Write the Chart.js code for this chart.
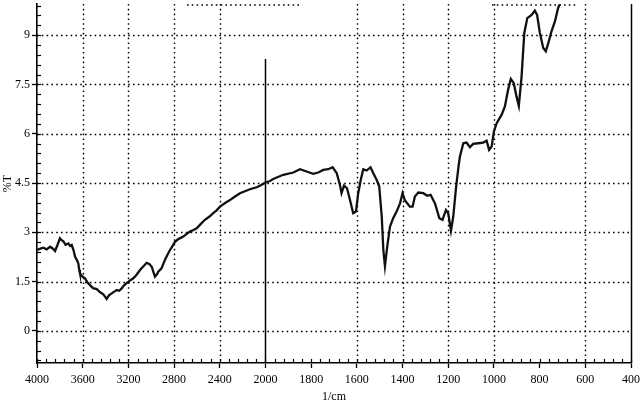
<!DOCTYPE html>
<html>
<head>
<meta charset="utf-8">
<script src="https://cdn.jsdelivr.net/npm/chart.js@4/dist/chart.umd.min.js"></script>
<style>
  html, body { margin: 0; padding: 0; background: #fff; }
  #wrap { width: 640px; height: 404px; position: relative; }
</style>
</head>
<body>
<div id="wrap"><canvas id="ir"></canvas></div>
<script>
// ── Spectrum data (wavenumber, %T) ──────────────────────────
const wavenumbers = [
  4000, 3970, 3945, 3915, 3886, 3860, 3842, 3820, 3799, 3785, 3770, 3750, 3726, 3710, 3696, 3680,
  3667, 3650, 3638, 3630, 3624, 3600, 3580, 3560, 3536, 3510, 3477, 3450, 3420, 3400, 3390, 3370,
  3346, 3320, 3302, 3280, 3259, 3240, 3215, 3190, 3157, 3130, 3098, 3070, 3040, 3015, 2996, 2980,
  2967, 2950, 2938, 2910, 2880, 2860, 2836, 2810, 2792, 2760, 2719, 2690, 2661, 2630, 2602, 2570,
  2530, 2490, 2457, 2430, 2398, 2350, 2311, 2270, 2223, 2180, 2136, 2077, 2040, 2004, 1980, 1966,
  1922, 1878, 1849, 1820, 1791, 1769, 1747, 1725, 1706, 1688, 1674, 1667, 1656, 1643, 1630, 1616,
  1604, 1594, 1583, 1572, 1557, 1540, 1528, 1513, 1502, 1491, 1484, 1477, 1467, 1455, 1441, 1426,
  1411, 1400, 1390, 1368, 1356, 1346, 1331, 1309, 1292, 1277, 1258, 1239, 1225, 1210, 1200, 1188,
  1178, 1166, 1155, 1149, 1134, 1120, 1105, 1091, 1069, 1047, 1032, 1021, 1010, 1000, 988, 966,
  952, 938, 926, 913, 901, 891, 879, 867, 854, 835, 821, 811, 799, 784, 773, 762,
  748, 733, 719, 711
];
const transmittance = [
  2.46, 2.50, 2.53, 2.48, 2.56, 2.50, 2.43, 2.62, 2.82, 2.76, 2.73, 2.62, 2.66, 2.58, 2.61, 2.45,
  2.26, 2.15, 2.05, 1.85, 1.75, 1.65, 1.60, 1.48, 1.39, 1.30, 1.27, 1.18, 1.11, 1.02, 0.97, 1.08,
  1.14, 1.20, 1.24, 1.22, 1.29, 1.38, 1.45, 1.52, 1.60, 1.70, 1.85, 1.96, 2.07, 2.03, 1.95, 1.78,
  1.65, 1.72, 1.80, 1.90, 2.16, 2.30, 2.46, 2.60, 2.71, 2.80, 2.87, 2.95, 3.02, 3.07, 3.12, 3.24,
  3.38, 3.48, 3.58, 3.66, 3.78, 3.90, 3.98, 4.08, 4.19, 4.25, 4.31, 4.37, 4.43, 4.51, 4.56, 4.62,
  4.75, 4.82, 4.92, 4.85, 4.78, 4.82, 4.90, 4.92, 4.98, 4.80, 4.44, 4.19, 4.42, 4.34, 3.98, 3.58,
  3.63, 4.19, 4.59, 4.92, 4.88, 4.98, 4.80, 4.59, 4.39, 3.48, 2.46, 1.97, 2.56, 3.17, 3.43, 3.63,
  3.88, 4.19, 3.98, 3.78, 3.78, 4.09, 4.21, 4.19, 4.11, 4.14, 3.88, 3.43, 3.38, 3.68, 3.58, 3.05,
  3.48, 4.35, 5.00, 5.30, 5.71, 5.73, 5.59, 5.69, 5.71, 5.73, 5.79, 5.51, 5.61, 6.07, 6.32, 6.58,
  6.83, 7.34, 7.67, 7.54, 7.13, 6.85, 7.74, 9.07, 9.52, 9.62, 9.75, 9.62, 9.07, 8.61, 8.51, 8.76,
  9.12, 9.42, 9.83, 9.95
];

// ── Axis ticks ─────────────────────────────────────────────
const xTickLabels = [4000, 3600, 3200, 2800, 2400, 2000, 1800, 1600, 1400, 1200, 1000, 800, 600, 400];
const yTickValues = [0, 1.5, 3, 4.5, 6, 7.5, 9];
const xGridDotted = [3600, 3200, 2800, 2400, 1600, 1400, 1200, 1000, 600];
const xGridSolid  = [2000, 400];

// The scan's x axis halves its scale below 2000 1/cm:
// 4000→2000 maps to 0→1000, 2000→400 maps to 1000→2600.
function toU(wn)  { return wn >= 2000 ? (4000 - wn) / 2 : 1000 + (2000 - wn); }
function fromU(u) { return u <= 1000 ? 4000 - 2 * u : 2000 - (u - 1000); }

const points = wavenumbers.map((wn, i) => ({ x: toU(wn), y: transmittance[i] }));

const FONT = { family: "'Liberation Serif', 'DejaVu Serif', serif", size: 12 };

// ── Grid lines + inside minor ticks ────────────────────────
const framePlugin = {
  id: "frame",
  beforeDatasetsDraw(chart) {
    const { ctx, chartArea: a, scales: { x, y } } = chart;
    const seg = (x1, y1, x2, y2) => { ctx.beginPath(); ctx.moveTo(x1, y1); ctx.lineTo(x2, y2); ctx.stroke(); };
    ctx.save();
    ctx.strokeStyle = "#000";

    // dotted grid
    ctx.lineWidth = 1.4;
    ctx.setLineDash([1.6, 3.2]);
    xGridDotted.forEach(wn => {
      const px = Math.round(x.getPixelForValue(toU(wn))) + 0.5;
      seg(px, a.top, px, a.bottom);
    });
    yTickValues.forEach(v => {
      const py = Math.round(y.getPixelForValue(v)) + 0.5;
      seg(a.left, py, a.right, py);
    });
    // top edge, broken
    seg(a.left + 150, a.top + 1, a.left + 265, a.top + 1);
    seg(a.left + 455, a.top + 1, a.left + 540, a.top + 1);

    // solid verticals
    ctx.setLineDash([]);
    ctx.lineWidth = 1.5;
    xGridSolid.forEach(wn => {
      const px = Math.round(x.getPixelForValue(toU(wn))) + 0.5;
      seg(px, wn === 2000 ? a.top + 55 : a.top, px, a.bottom);
    });

    // minor ticks pointing into the plot
    ctx.lineWidth = 1.2;
    for (let u = 0; u <= 2600; u += 40) {
      const px = Math.round(x.getPixelForValue(u)) + 0.5;
      seg(px, a.bottom, px, a.bottom - 4);
    }
    for (let k = -3; k <= 33; k++) {
      const py = Math.round(y.getPixelForValue(k * 0.3)) + 0.5;
      seg(a.left, py, a.left + 4, py);
    }
    ctx.restore();
  },
};

// ── Chart ──────────────────────────────────────────────────
new Chart(document.getElementById("ir"), {
  type: "line",
  data: {
    datasets: [{
      label: "%T",
      data: points,
      borderColor: "#111",
      borderWidth: 2.3,
      pointRadius: 0,
      tension: 0,
      fill: false,
    }],
  },
  options: {
    responsive: true,
    maintainAspectRatio: false,
    animation: false,
    events: [],
    layout: { padding: { top: 4, right: 9, bottom: 0, left: 0 } },
    plugins: { legend: { display: false }, tooltip: { enabled: false } },
    scales: {
      x: {
        type: "linear",
        min: 0,
        max: 2600,
        afterBuildTicks: s => { s.ticks = xTickLabels.map(wn => ({ value: toU(wn) })); },
        afterFit: s => { s.height = 41; s.paddingLeft = 0; s.paddingRight = 0; },
        ticks: {
          color: "#000",
          font: FONT,
          padding: 5,
          maxRotation: 0,
          autoSkip: false,
          callback: v => String(fromU(v)),
        },
        grid: { drawOnChartArea: false, drawTicks: true, tickLength: 5, tickColor: "#000", tickWidth: 1.3 },
        border: { display: true, color: "#000", width: 1.6 },
        title: { display: true, text: "1/cm", color: "#000", font: FONT, padding: { top: 0, bottom: 0 } },
      },
      y: {
        type: "linear",
        min: -0.98,
        max: 9.95,
        afterBuildTicks: s => { s.ticks = yTickValues.map(v => ({ value: v })); },
        afterFit: s => { s.width = 37; s.paddingTop = 0; s.paddingBottom = 0; },
        ticks: { color: "#000", font: FONT, padding: 2 },
        grid: { drawOnChartArea: false, drawTicks: true, tickLength: 5, tickColor: "#000", tickWidth: 1.3 },
        border: { display: true, color: "#000", width: 1.6 },
        title: { display: true, text: "%T", color: "#000", font: FONT, padding: { top: 1, bottom: 0 } },
      },
    },
  },
  plugins: [framePlugin],
});
</script>
</body>
</html>
